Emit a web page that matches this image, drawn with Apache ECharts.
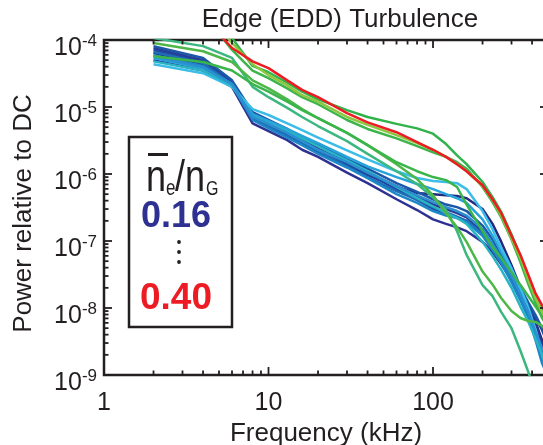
<!DOCTYPE html>
<html><head><meta charset="utf-8">
<script src="https://cdn.jsdelivr.net/npm/echarts/dist/echarts.min.js"></script>
<style>html,body{margin:0;padding:0;background:#fff}#c{width:543px;height:445px}</style>
</head><body><div id="c"></div>
<script>
// ---- data ----
const freqs = [2,4,6,8,10,13,16,20,30,40,60,80,100,120,140,160,200,230,260,300,340,380,420,460,500];
const xMajorTicks = [1,10,100];
const xMinorTicks = [2,3,4,5,6,7,8,9,20,30,40,50,60,70,80,90,200,300,400];
const yMajorTicks = [1e-9,1e-8,1e-7,1e-6,1e-5,1e-4];
const yMinorMult = [2,3,4,5,6,7,8,9];

const b1 = [5.0e-5,3.5e-5,2.0e-5,5.7e-6,4.35e-6,3.2e-6,2.3e-6,1.8e-6,1.05e-6,7.3e-7,4.2e-7,2.9e-7,2.1e-7,1.8e-7,1.6e-7,1.4e-7,9.7e-8,6.8e-8,4.5e-8,2.6e-8,1.4e-8,7.85e-9,3.9e-9,2.0e-9,8.1e-10];
const b2 = [6.4e-5,4.35e-5,2.2e-5,6.6e-6,5.0e-6,3.7e-6,2.8e-6,2.1e-6,1.3e-6,9.7e-7,6.4e-7,5.2e-7,5.0e-7,4.8e-7,4.7e-7,4.35e-7,3.0e-7,1.8e-7,9.7e-8,4.35e-8,2.0e-8,1.1e-8,6.2e-9,3.3e-9,1.65e-9];
const b3 = [7.6e-5,5.0e-5,2.3e-5,7.6e-6,5.7e-6,4.2e-6,3.2e-6,2.4e-6,1.5e-6,1.05e-6,6.6e-7,4.7e-7,3.5e-7,3.0e-7,2.6e-7,2.25e-7,1.4e-7,8.4e-8,5.2e-8,2.8e-8,1.5e-8,9.3e-9,5.55e-9,2.8e-9,1.2e-9];
const b4 = [7.1e-5,4.7e-5,2.25e-5,7.1e-6,5.4e-6,3.9e-6,3.0e-6,2.25e-6,1.4e-6,1.0e-6,5.95e-7,4.1e-7,3.0e-7,2.5e-7,2.25e-7,2.0e-7,1.3e-7,8.7e-8,5.55e-8,3.1e-8,1.7e-8,1.0e-8,7.1e-9,4.7e-9,2.8e-9];
const b5 = [8.1e-5,5.4e-5,2.5e-5,8.4e-6,6.4e-6,4.7e-6,3.5e-6,2.7e-6,1.65e-6,1.2e-6,7.3e-7,5.4e-7,4.2e-7,3.5e-7,3.2e-7,2.8e-7,1.7e-7,1.05e-7,6.2e-8,3.4e-8,2.0e-8,1.2e-8,7.85e-9,5.0e-9,3.3e-9];
const b6 = [6.6e-5,4.5e-5,2.2e-5,6.8e-6,5.2e-6,3.8e-6,2.9e-6,2.2e-6,1.3e-6,9.0e-7,5.55e-7,4.1e-7,3.2e-7,2.7e-7,2.3e-7,2.0e-7,1.3e-7,7.85e-8,4.8e-8,2.6e-8,1.4e-8,7.85e-9,3.9e-9,2.3e-9,1.4e-9];
const b7 = [5.95e-5,4.1e-5,2.1e-5,6.4e-6,4.8e-6,3.5e-6,2.7e-6,2.0e-6,1.25e-6,8.7e-7,5.0e-7,3.7e-7,2.8e-7,2.4e-7,2.2e-7,1.9e-7,1.2e-7,7.3e-8,4.7e-8,2.4e-8,1.3e-8,7.1e-9,3.3e-9,1.5e-9,9.5e-10];
const b8 = [5.4e-5,3.8e-5,2.2e-5,7.85e-6,6.2e-6,4.7e-6,3.7e-6,2.9e-6,1.8e-6,1.3e-6,9.0e-7,7.1e-7,5.95e-7,5.0e-7,4.35e-7,3.7e-7,2.1e-7,1.2e-7,6.8e-8,3.7e-8,1.8e-8,9.3e-9,4.7e-9,2.3e-9,1.4e-9];
const b9 = [4.35e-5,3.2e-5,2.0e-5,9.3e-6,7.6e-6,5.7e-6,4.5e-6,3.5e-6,2.25e-6,1.65e-6,1.1e-6,8.7e-7,7.85e-7,7.6e-7,7.3e-7,5.95e-7,2.8e-7,1.5e-7,7.85e-8,3.9e-8,2.0e-8,1.0e-8,4.7e-9,2.0e-9,1.1e-9];
const b10 = [4.8e-5,3.5e-5,2.1e-5,7.3e-6,5.7e-6,4.35e-6,3.4e-6,2.6e-6,1.6e-6,1.1e-6,6.4e-7,4.35e-7,3.3e-7,2.6e-7,2.2e-7,1.8e-7,9.7e-8,5.95e-8,3.7e-8,2.0e-8,1.05e-8,6.2e-9,3.5e-9,2.0e-9,1.1e-9];
const b11 = [5.7e-5,3.9e-5,2.2e-5,7.1e-6,5.55e-6,4.1e-6,3.1e-6,2.3e-6,1.5e-6,1.05e-6,6.6e-7,4.8e-7,3.8e-7,3.2e-7,2.8e-7,2.4e-7,1.5e-7,9.0e-8,5.55e-8,3.0e-8,1.6e-8,8.7e-9,4.35e-9,2.5e-9,1.5e-9];
const g1 = [1.07e-4,8.1e-5,5.4e-5,2.0e-5,1.4e-5,9.7e-6,7.1e-6,5.2e-6,3.1e-6,2.0e-6,1.1e-6,7.1e-7,4.5e-7,2.9e-7,1.4e-7,6.2e-8,2.2e-8,1.5e-8,8.7e-9,5.0e-9,2.3e-9,1.1e-9,5.4e-10,null,null];
const g2 = [9.0e-5,6.8e-5,4.7e-5,2.5e-5,1.9e-5,1.3e-5,9.3e-6,6.8e-6,4.1e-6,2.7e-6,1.4e-6,8.4e-7,4.8e-7,2.6e-7,1.6e-7,9.7e-8,3.5e-8,2.25e-8,1.4e-8,9.0e-9,7.1e-9,6.4e-9,6.2e-9,5.4e-9,4.35e-9];
const g3 = [5.7e-5,4.7e-5,3.5e-5,2.2e-5,1.7e-5,1.2e-5,9.0e-6,6.8e-6,4.1e-6,2.7e-6,1.5e-6,1.1e-6,9.0e-7,8.1e-7,6.4e-7,3.5e-7,1.4e-7,8.1e-8,5.55e-8,3.4e-8,2.2e-8,1.5e-8,1.05e-8,7.6e-9,5.55e-9];
const g4 = [5.1e-4,2.5e-4,7.1e-5,3.5e-5,2.7e-5,1.9e-5,1.4e-5,1.1e-5,6.4e-6,4.7e-6,3.4e-6,2.6e-6,2.1e-6,1.8e-6,1.5e-6,1.2e-6,6.4e-7,3.8e-7,2.25e-7,1.05e-7,4.8e-8,2.25e-8,1.2e-8,7.1e-9,5.0e-9];
const g5 = [8.6e-4,3.6e-4,1.07e-4,4.1e-5,3.3e-5,2.3e-5,1.7e-5,1.3e-5,9.0e-6,7.1e-6,5.6e-6,4.8e-6,4.0e-6,2.8e-6,1.9e-6,1.4e-6,7.6e-7,4.5e-7,2.7e-7,1.25e-7,6.0e-8,2.9e-8,1.4e-8,9.3e-9,6.6e-9];
const lg = [6.1e-4,3.0e-4,9.0e-5,4.35e-5,3.0e-5,2.1e-5,1.5e-5,1.2e-5,7.1e-6,5.4e-6,3.8e-6,2.9e-6,2.3e-6,1.8e-6,1.4e-6,1.1e-6,6.6e-7,4.1e-7,2.4e-7,1.1e-7,5.55e-8,2.6e-8,1.4e-8,8.7e-9,6.2e-9];
const red = [3.6e-4,2.2e-4,7.6e-5,4.8e-5,3.8e-5,2.5e-5,1.8e-5,1.4e-5,8.1e-6,5.9e-6,4.2e-6,3.0e-6,2.3e-6,1.8e-6,1.4e-6,1.1e-6,6.8e-7,4.2e-7,2.6e-7,1.2e-7,6.2e-8,3.1e-8,1.65e-8,1.1e-8,7.9e-9];

const seriesData = [b1,b2,b3,b4,b5,b6,b7,b8,b9,b10,b11,g1,g2,g3,g4,g5,lg,red];
const seriesColors = ['#2e3192','#262a7f','#2b3a96','#1f47a0','#1b58a8','#1e6db5','#1d86c8','#27a3dc','#3bbde8','#29b4c3','#2b8fd0',
                      '#3cb77f','#4db748','#39b54a','#3db54b','#2fb34a','#8dc63f','#ed1c24'];

const titleText = 'Edge (EDD) Turbulence';
const xName = 'Frequency (kHz)';
const yName = 'Power relative to DC';

// ---- chart ----
const FONT = '"Liberation Sans", Arial, Helvetica, sans-serif';
const INK = '#231f20';
const chart = echarts.init(document.getElementById('c'), null, {renderer:'canvas', width:543, height:445});

const option = {
  animation: false,
  backgroundColor: '#fff',
  title: { text: titleText, left: 335, top: 2, textAlign: 'center',
           textStyle: { fontFamily: FONT, fontSize: 26, fontWeight: 'normal', color: INK } },
  grid: { left: 104, top: 40, right: -5, bottom: 70, containLabel: false, outerBoundsMode: 'none',
          show: true, borderColor: INK, borderWidth: 2.5, backgroundColor: 'transparent' },
  xAxis: {
    type: 'log', logBase: 10, min: 1, max: 500,
    name: xName, nameLocation: 'middle', nameGap: 41,
    nameTextStyle: { fontFamily: FONT, fontSize: 26, color: INK },
    axisLine: { show: false }, axisTick: { show: false }, splitLine: { show: false }, minorTick: {show:false},
    axisLabel: { margin: 16, fontFamily: FONT, fontSize: 25, color: INK, showMaxLabel: false,
                 formatter: v => xMajorTicks.some(t => Math.abs(t - v) / t < 1e-6) ? String(Math.round(v)) : '' }
  },
  yAxis: {
    type: 'log', logBase: 10, min: 1e-9, max: 1e-4,
    name: yName, nameLocation: 'middle', nameGap: 67, nameRotate: 90,
    nameTextStyle: { fontFamily: FONT, fontSize: 26, color: INK, padding: [0,0,0,-12] },
    axisLine: { show: false }, axisTick: { show: false }, splitLine: { show: false },
    axisLabel: { margin: 7, padding: [14,0,0,0],
      formatter: v => '{b|10}{s|' + Math.round(Math.log10(v)) + '}',
      rich: {
        b: { fontFamily: FONT, fontSize: 25, color: INK, verticalAlign: 'bottom' },
        s: { fontFamily: FONT, fontSize: 17, color: INK, verticalAlign: 'bottom', padding: [0,0,11,0] }
      }
    }
  },
  series: seriesData.map((arr, i) => ({
    type: 'line', name: 's' + i, silent: true, symbol: 'none', clip: true,
    lineStyle: { color: seriesColors[i], width: 2.5, join: 'round' },
    data: freqs.map((f, j) => [f, arr[j]]).filter(p => p[1] != null)
  }))
};
chart.setOption(option);

// ---- ticks (inside, all four sides) & legend box ----
const P = (x, y) => chart.convertToPixel({ gridIndex: 0 }, [x, y]);
const [xL, yB] = P(1, 1e-9);
const [xR, yT] = P(500, 1e-4);
const MAJ = 8, MIN = 4.5;
const gfx = [];
function ln(x1, y1, x2, y2) {
  gfx.push({ type: 'line', silent: true, z: 50, shape: { x1, y1, x2, y2 }, style: { stroke: INK, lineWidth: 1.8 } });
}
xMajorTicks.forEach(t => { const x = P(t, 1e-6)[0]; ln(x, yB, x, yB - MAJ); ln(x, yT, x, yT + MAJ); });
xMinorTicks.forEach(t => { const x = P(t, 1e-6)[0]; ln(x, yB, x, yB - MIN); ln(x, yT, x, yT + MIN); });
yMajorTicks.forEach(t => { const y = P(10, t)[1]; ln(xL, y, xL + MAJ, y); ln(xR, y, xR - MAJ, y); });
yMajorTicks.slice(0, -1).forEach(t => yMinorMult.forEach(m => {
  const y = P(10, t * m)[1]; ln(xL, y, xL + MIN, y); ln(xR, y, xR - MIN, y);
}));

// legend box
gfx.push({ type: 'rect', z: 60, shape: { x: 129, y: 137, width: 103, height: 190 },
           style: { fill: '#fff', stroke: INK, lineWidth: 2.5 } });
gfx.push({ type: 'rect', z: 61, shape: { x: 148, y: 153, width: 20, height: 3 }, style: { fill: INK } });
function txt(x, baseline, text, size, color, weight, align) {
  return { type: 'text', z: 61, silent: true,
    style: { x, y: baseline - 0.31 * size, text, fill: color, align: align || 'left', verticalAlign: 'middle',
             font: (weight || 'normal') + ' ' + size + 'px ' + FONT } };
}
gfx.push({ type: 'group', z: 61, originX: 0, originY: 193, scaleY: 1.25, children: [
  txt(146, 193, 'n', 36, INK),
  txt(166, 195, 'e', 17, INK),
  txt(175, 193, '/n', 36, INK),
  txt(206, 195, 'G', 16, INK)
]});
gfx.push(txt(176, 228, '0.16', 36, '#2e3192', 'bold', 'center'));
gfx.push(txt(176, 310, '0.40', 37, '#ed1c24', 'bold', 'center'));
[242, 252, 262].forEach(y => gfx.push({ type: 'circle', z: 61, shape: { cx: 179, cy: y, r: 1.9 }, style: { fill: INK } }));

chart.setOption({ graphic: gfx });
</script></body></html>
